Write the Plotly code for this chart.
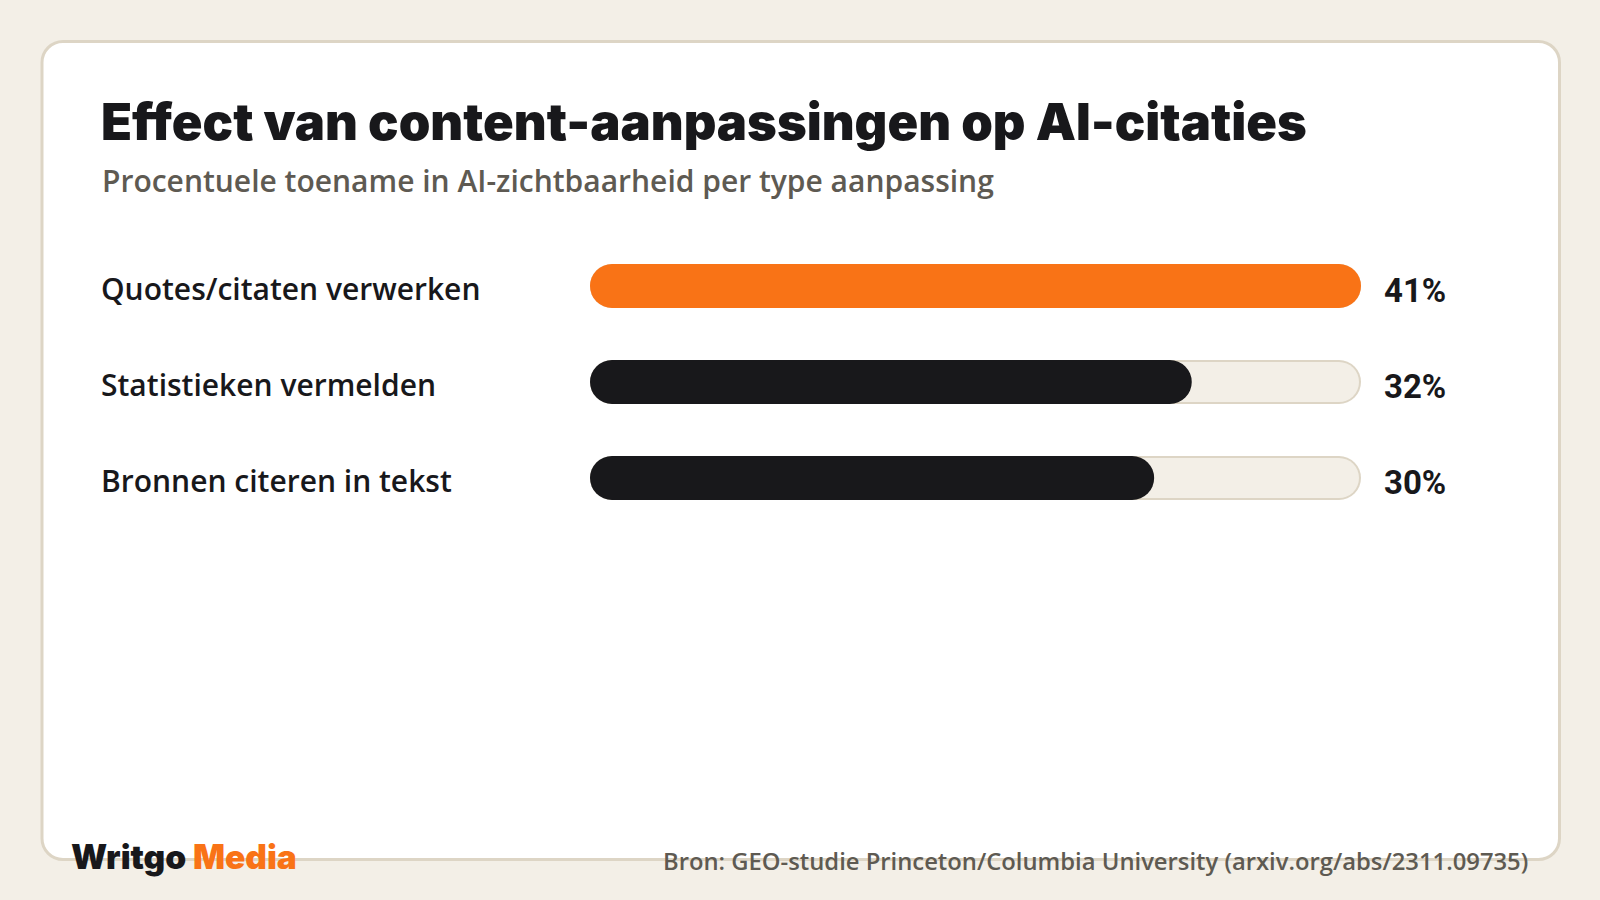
import plotly.graph_objects as go

categories = ["Quotes/citaten verwerken", "Statistieken vermelden", "Bronnen citeren in tekst"]
values = [41, 32, 30]
value_labels = ["41%", "32%", "30%"]

title = "Effect van content-aanpassingen op AI-citaties"
subtitle = "Procentuele toename in AI-zichtbaarheid per type aanpassing"
source = "Bron: GEO-studie Princeton/Columbia University (arxiv.org/abs/2311.09735)"

W, H = 1600, 900
PL, PR = 590, 1361   # plot area in pixels
PT, PB = 238, 526
PW, PH = PR - PL, PB - PT
ROW = PH / len(categories)

def px(x):
    return (x - PL) / PW

def py(y):
    return 1 - (y - PT) / PH

ORANGE = "#F97316"
DARK = "#18181B"
BG = "#F3EFE7"
BORDER = "#DDD5C5"
GREY = "#5E5A52"

vmax = max(values)
colors = [ORANGE if v == vmax else DARK for v in values]

fig = go.Figure()

def pill(starts, ends, thickness_px, color):
    """Bar with explicit base -> rounded on both ends."""
    fig.add_trace(go.Bar(
        base=starts, x=[e - s for s, e in zip(starts, ends)],
        y=categories, orientation="h", width=thickness_px / ROW,
        marker=dict(color=color, line=dict(width=0)),
        hoverinfo="skip", cliponaxis=False, showlegend=False))

d = 2 * vmax / PW  # 2px border expressed in data units
pill([0] * len(values), [vmax] * len(values), 44, BORDER)          # track outline
pill([d] * len(values), [vmax - d] * len(values), 40, BG)          # track fill
pill([0] * len(values), values, 44, colors)                        # value bars

# rounded card
def rounded_rect(x0, y0, x1, y1, r):
    k = 0.5523 * r
    X = lambda v: f"{px(v):.6f}"
    Y = lambda v: f"{py(v):.6f}"
    return (
        f"M {X(x0 + r)},{Y(y0)} L {X(x1 - r)},{Y(y0)} "
        f"C {X(x1 - r + k)},{Y(y0)} {X(x1)},{Y(y0 + r - k)} {X(x1)},{Y(y0 + r)} "
        f"L {X(x1)},{Y(y1 - r)} "
        f"C {X(x1)},{Y(y1 - r + k)} {X(x1 - r + k)},{Y(y1)} {X(x1 - r)},{Y(y1)} "
        f"L {X(x0 + r)},{Y(y1)} "
        f"C {X(x0 + r - k)},{Y(y1)} {X(x0)},{Y(y1 - r + k)} {X(x0)},{Y(y1 - r)} "
        f"L {X(x0)},{Y(y0 + r)} "
        f"C {X(x0)},{Y(y0 + r - k)} {X(x0 + r - k)},{Y(y0)} {X(x0 + r)},{Y(y0)} Z"
    )

fig.add_shape(type="path", path=rounded_rect(42, 41.5, 1559.5, 859.5, 21),
              xref="paper", yref="paper", layer="below",
              fillcolor="white", line=dict(color=BORDER, width=3))

ann = []
ann.append(dict(text=title, x=px(99), y=py(121), xref="paper", yref="paper",
                xanchor="left", yanchor="middle", showarrow=False,
                font=dict(family="Inter", size=50.7, color=DARK, weight=900)))
ann.append(dict(text=subtitle, x=px(100), y=py(180), xref="paper", yref="paper",
                xanchor="left", yanchor="middle", showarrow=False,
                font=dict(family="Open Sans", size=30, color=GREY, weight=600)))
for c, lab in zip(categories, value_labels):
    ann.append(dict(text=c, x=px(99), y=c, xref="paper", yref="y", yshift=-2,
                    xanchor="left", yanchor="middle", showarrow=False,
                    font=dict(family="Open Sans", size=30, color=DARK, weight=600)))
    ann.append(dict(text=lab, x=px(1382), y=c, xref="paper", yref="y", yshift=-4,
                    xanchor="left", yanchor="middle", showarrow=False,
                    font=dict(family="Roboto", size=33, color=DARK, weight=700)))
ann.append(dict(text=f"<span style='color:{DARK}'>Writgo</span> <span style='color:{ORANGE}'>Media</span>",
                x=px(69), y=py(857), xref="paper", yref="paper",
                xanchor="left", yanchor="middle", showarrow=False,
                font=dict(family="Inter", size=33.5, color=DARK, weight=900)))
ann.append(dict(text=source, x=px(1530), y=py(861), xref="paper", yref="paper",
                xanchor="right", yanchor="middle", showarrow=False,
                font=dict(family="Open Sans", size=23.8, color=GREY, weight=600)))

fig.update_layout(
    width=W, height=H,
    margin=dict(l=PL, r=W - PR, t=PT, b=H - PB, pad=0),
    paper_bgcolor=BG, plot_bgcolor="rgba(0,0,0,0)",
    barmode="overlay", barcornerradius=22,
    xaxis=dict(range=[0, vmax], visible=False, fixedrange=True),
    yaxis=dict(categoryorder="array", categoryarray=categories, autorange="reversed",
               visible=False, fixedrange=True),
    annotations=ann,
    showlegend=False,
)

fig.write_html("out.html", config={"displayModeBar": False})
